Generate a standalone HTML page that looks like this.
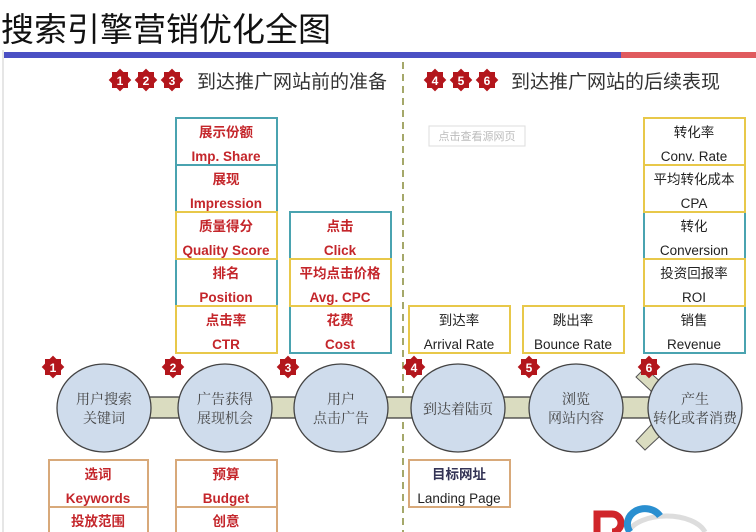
<!DOCTYPE html>
<html><head><meta charset="utf-8"><style>
html,body{margin:0;padding:0;background:#fff;width:756px;height:532px;overflow:hidden;}
svg{display:block;}
</style></head><body>
<svg width="756" height="532" viewBox="0 0 756 532" xmlns="http://www.w3.org/2000/svg" font-family="'Liberation Sans','Noto Sans CJK SC',sans-serif">
<defs>
<g id="star"><rect x="-8" y="-8" width="16" height="16" fill="#b3161c"/><rect x="-8" y="-8" width="16" height="16" fill="#b3161c" transform="rotate(45)"/></g>
</defs>
<rect x="0" y="0" width="756" height="532" fill="#fff"/>
<line x1="3" y1="50" x2="3" y2="532" stroke="#ddd" stroke-width="1.5"/>
<text x="1" y="41" font-size="33" fill="#111">搜索引擎营销优化全图</text>
<rect x="4" y="52" width="617" height="6" fill="#4b50c4"/>
<rect x="621" y="52" width="135" height="6" fill="#e05a5e"/>
<line x1="403" y1="62" x2="403" y2="532" stroke="#a5a86a" stroke-width="2" stroke-dasharray="7,5"/>

<g font-size="12" font-weight="bold" fill="#fff" text-anchor="middle">
<use href="#star" x="120" y="80"/><text x="120" y="85">1</text>
<use href="#star" x="146" y="80"/><text x="146" y="85">2</text>
<use href="#star" x="172" y="80"/><text x="172" y="85">3</text>
<use href="#star" x="435" y="80"/><text x="435" y="85">4</text>
<use href="#star" x="461" y="80"/><text x="461" y="85">5</text>
<use href="#star" x="487" y="80"/><text x="487" y="85">6</text>
</g>
<text x="197" y="88" font-size="19" fill="#333">到达推广网站前的准备</text>
<text x="511" y="88" font-size="19" fill="#333">到达推广网站的后续表现</text>

<rect x="429" y="126" width="96" height="20" fill="#fff" stroke="#ddd"/>
<text x="477" y="140" font-size="11" fill="#bbb" text-anchor="middle">点击查看源网页</text>

<g font-weight="bold" fill="#c4262b" font-size="13.5" text-anchor="middle">
<rect x="176" y="118" width="101" height="47" fill="none" stroke="#4aa3b0" stroke-width="2"/>
<text x="226" y="137">展示份额</text><text x="226" y="161">Imp. Share</text>
<rect x="176" y="165" width="101" height="47" fill="none" stroke="#4aa3b0" stroke-width="2"/>
<text x="226" y="184">展现</text><text x="226" y="208">Impression</text>
<rect x="176" y="259" width="101" height="47" fill="none" stroke="#4aa3b0" stroke-width="2"/>
<rect x="176" y="212" width="101" height="47" fill="none" stroke="#e8c84a" stroke-width="2"/>
<text x="226" y="231">质量得分</text><text x="226" y="255">Quality Score</text>
<text x="226" y="278">排名</text><text x="226" y="302">Position</text>
<rect x="176" y="306" width="101" height="47" fill="none" stroke="#e8c84a" stroke-width="2"/>
<text x="226" y="325">点击率</text><text x="226" y="349">CTR</text>

<rect x="290" y="212" width="101" height="47" fill="none" stroke="#4aa3b0" stroke-width="2"/>
<rect x="290" y="306" width="101" height="47" fill="none" stroke="#4aa3b0" stroke-width="2"/>
<rect x="290" y="259" width="101" height="47" fill="none" stroke="#e8c84a" stroke-width="2"/>
<text x="340" y="231">点击</text><text x="340" y="255">Click</text>
<text x="340" y="278">平均点击价格</text><text x="340" y="302">Avg. CPC</text>
<text x="340" y="325">花费</text><text x="340" y="349">Cost</text>

<rect x="49" y="460" width="99" height="47" fill="none" stroke="#d8a97a" stroke-width="2"/>
<path d="M49 532 V507 H148 V532" fill="none" stroke="#d8a97a" stroke-width="2"/>
<text x="98" y="479">选词</text><text x="98" y="503">Keywords</text><text x="98" y="526">投放范围</text>
<rect x="176" y="460" width="101" height="47" fill="none" stroke="#d8a97a" stroke-width="2"/>
<path d="M176 532 V507 H277 V532" fill="none" stroke="#d8a97a" stroke-width="2"/>
<text x="226" y="479">预算</text><text x="226" y="503">Budget</text><text x="226" y="526">创意</text>
</g>

<g fill="#222" font-size="13.5" text-anchor="middle">
<rect x="644" y="212" width="101" height="47" fill="none" stroke="#4aa3b0" stroke-width="2"/>
<rect x="644" y="306" width="101" height="47" fill="none" stroke="#4aa3b0" stroke-width="2"/>
<rect x="644" y="118" width="101" height="47" fill="none" stroke="#e8c84a" stroke-width="2"/>
<rect x="644" y="165" width="101" height="47" fill="none" stroke="#e8c84a" stroke-width="2"/>
<rect x="644" y="259" width="101" height="47" fill="none" stroke="#e8c84a" stroke-width="2"/>
<text x="694" y="137">转化率</text><text x="694" y="161">Conv. Rate</text>
<text x="694" y="184">平均转化成本</text><text x="694" y="208">CPA</text>
<text x="694" y="231">转化</text><text x="694" y="255">Conversion</text>
<text x="694" y="278">投资回报率</text><text x="694" y="302">ROI</text>
<text x="694" y="325">销售</text><text x="694" y="349">Revenue</text>
<rect x="409" y="306" width="101" height="47" fill="none" stroke="#e8c84a" stroke-width="2"/>
<text x="459" y="325">到达率</text><text x="459" y="349">Arrival Rate</text>
<rect x="523" y="306" width="101" height="47" fill="none" stroke="#e8c84a" stroke-width="2"/>
<text x="573" y="325">跳出率</text><text x="573" y="349">Bounce Rate</text>
<rect x="409" y="460" width="101" height="47" fill="none" stroke="#d8a97a" stroke-width="2"/>
<text x="459" y="479" font-weight="bold" fill="#333355">目标网址</text><text x="459" y="503">Landing Page</text>
</g>

<rect x="100" y="397" width="560" height="21" fill="#dadcc0" stroke="#333" stroke-width="1.2"/>
<polygon points="636,377 645,368 690,408 645,450 636,441 651,425 651,391" fill="#dadcc0" stroke="#555" stroke-width="1"/>

<g fill="#cfdcec" stroke="#444" stroke-width="1.3">
<ellipse cx="104" cy="408" rx="47" ry="44"/>
<ellipse cx="225" cy="408" rx="47" ry="44"/>
<ellipse cx="341" cy="408" rx="47" ry="44"/>
<ellipse cx="458" cy="408" rx="47" ry="44"/>
<ellipse cx="576" cy="408" rx="47" ry="44"/>
<ellipse cx="695" cy="408" rx="47" ry="44"/>
</g>
<g font-family="'Liberation Serif','Noto Serif CJK SC',serif" font-size="14" fill="#444" text-anchor="middle">
<text x="104" y="404">用户搜索</text><text x="104" y="423">关键词</text>
<text x="225" y="404">广告获得</text><text x="225" y="423">展现机会</text>
<text x="341" y="404">用户</text><text x="341" y="423">点击广告</text>
<text x="458" y="414">到达着陆页</text>
<text x="576" y="404">浏览</text><text x="576" y="423">网站内容</text>
<text x="695" y="404">产生</text><text x="695" y="423">转化或者消费</text>
</g>

<g font-size="12" font-weight="bold" fill="#fff" text-anchor="middle">
<use href="#star" x="53" y="367"/><text x="53" y="372">1</text>
<use href="#star" x="173" y="367"/><text x="173" y="372">2</text>
<use href="#star" x="288" y="367"/><text x="288" y="372">3</text>
<use href="#star" x="414" y="367"/><text x="414" y="372">4</text>
<use href="#star" x="529" y="367"/><text x="529" y="372">5</text>
<use href="#star" x="649" y="367"/><text x="649" y="372">6</text>
</g>

<path d="M628 532 A40 22 0 0 1 705 532" fill="none" stroke="#ddd" stroke-width="5"/>
<path d="M597 532 V514 H612 A9 9 0 0 1 612 532" fill="none" stroke="#d0252a" stroke-width="7"/>
<path d="M660 516 A16 14 0 0 0 630 532" fill="none" stroke="#2a8fd0" stroke-width="7"/>
</svg>
</body></html>
